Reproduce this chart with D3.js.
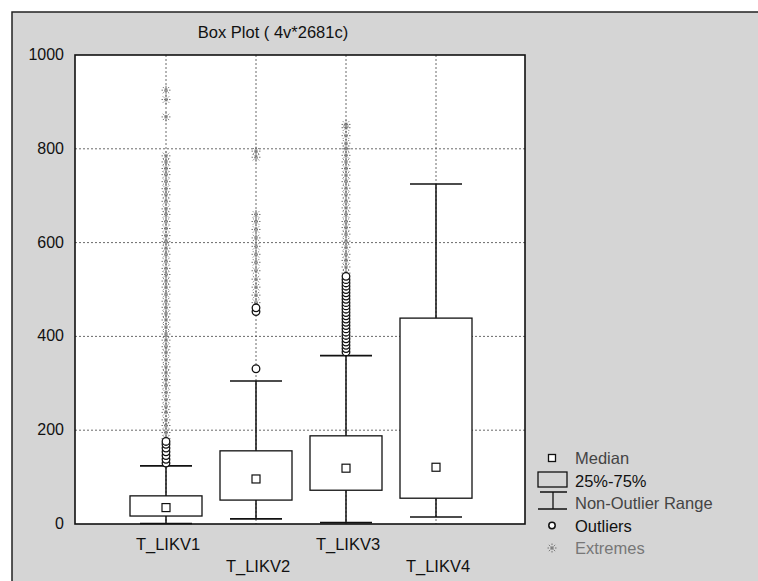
<!DOCTYPE html>
<html>
<head>
<meta charset="utf-8">
<script src="https://cdn.jsdelivr.net/npm/d3@7"></script>
<style>
  html, body { margin: 0; padding: 0; background: #fff; }
  svg { display: block; font-family: "Liberation Sans", Arial, sans-serif; }
</style>
</head>
<body>
<div id="chart"></div>
<script>
// values
const categories = ["T_LIKV1", "T_LIKV2", "T_LIKV3", "T_LIKV4"];
const medians = [35, 96, 119, 121];
const q1 = [17, 51, 72, 55];
const q3 = [60, 156, 188, 439];
const whiskLow = [1, 11, 3, 15];
const whiskHigh = [124, 305, 359, 725];

const outliers = [
	[130, 138, 146, 154, 162, 170, 176],
	[331, 453, 461],
	[367, 374, 381, 388, 395, 402, 409, 416, 423, 430, 437, 444, 451, 458, 465, 472, 479, 486, 493, 500, 507, 514, 521, 528],
	[]
];

const extremes = [
	[182, 195, 210, 222, 238, 250, 265, 280, 295, 308, 322, 335, 350, 365, 378, 392, 405, 420, 435, 448, 462, 475, 490, 505, 518, 532, 545, 560, 575, 588, 602, 615, 630, 645, 660, 672, 688, 702, 715, 730, 745, 758, 772, 785, 868, 905, 925],
	[472, 488, 505, 522, 540, 558, 575, 592, 610, 628, 645, 660, 782, 795],
	[535, 548, 562, 575, 590, 603, 618, 632, 645, 660, 674, 688, 702, 716, 730, 744, 758, 772, 786, 800, 812, 828, 845, 852],
	[]
];

const yTicks = [0, 200, 400, 600, 800, 1000];
const legendItems = ["Median", "25%-75%", "Non-Outlier Range", "Outliers", "Extremes"];

var width = 758,
	height = 581;
var plot = { left: 75, right: 525, top: 55, bottom: 524 };

var svg = d3
	.select("#chart")
	.append("svg")
	.attr("width", width)
	.attr("height", height);

// scanned grey page with frame
svg.append("rect")
	.attr("x", 12).attr("y", 12)
	.attr("width", width - 12).attr("height", height - 12)
	.attr("fill", "#d5d5d5");
svg.append("path")
	.attr("d", `M12,${height}V12H${width}`)
	.attr("fill", "none")
	.attr("stroke", "#222")
	.attr("stroke-width", 1.5);

var x = d3.scalePoint().domain(categories).range([plot.left + 1, plot.right + 1]).padding(1);
var y = d3.scaleLinear().domain([0, 1000]).range([plot.bottom, plot.top]);

svg.append("rect")
	.attr("x", plot.left).attr("y", plot.top)
	.attr("width", plot.right - plot.left).attr("height", plot.bottom - plot.top)
	.attr("fill", "#fff");

// grid
svg.append("g")
	.selectAll("line")
	.data(yTicks.filter((d) => d > 0 && d < 1000))
	.join("line")
	.attr("x1", plot.left).attr("x2", plot.right)
	.attr("y1", (d) => y(d)).attr("y2", (d) => y(d))
	.attr("stroke", "#444").attr("stroke-width", 0.8)
	.attr("stroke-dasharray", "2,2");
svg.append("g")
	.selectAll("line")
	.data(categories)
	.join("line")
	.attr("x1", (d) => x(d)).attr("x2", (d) => x(d))
	.attr("y1", plot.top).attr("y2", plot.bottom)
	.attr("stroke", "#444").attr("stroke-width", 0.8)
	.attr("stroke-dasharray", "2,2");

// y labels
svg.append("g")
	.selectAll("text")
	.data(yTicks)
	.join("text")
	.attr("x", 64)
	.attr("y", (d) => y(d) + 5)
	.attr("text-anchor", "end")
	.attr("font-size", 16)
	.attr("fill", "#111")
	.text((d) => d);

function star(g, cx, cy, s) {
	g.append("path")
		.attr("d", `M${cx - s},${cy}H${cx + s}M${cx},${cy - s}V${cy + s}M${cx - s * 0.7},${cy - s * 0.7}L${cx + s * 0.7},${cy + s * 0.7}M${cx - s * 0.7},${cy + s * 0.7}L${cx + s * 0.7},${cy - s * 0.7}`)
		.attr("fill", "none")
		.attr("stroke", "#666")
		.attr("stroke-width", 0.9)
		.attr("stroke-dasharray", "1.5,1");
}

var boxW = 72,
	capW = 52,
	medS = 8;

categories.forEach((c, i) => {
	var g = svg.append("g");
	var cx = x(c);

	extremes[i].forEach((v) => star(g, cx, y(v), 4.5));

	g.append("line")
		.attr("x1", cx).attr("x2", cx)
		.attr("y1", y(whiskLow[i])).attr("y2", y(whiskHigh[i]))
		.attr("stroke", "#111").attr("stroke-width", 1.5);
	[whiskLow[i], whiskHigh[i]].forEach((v) => {
		g.append("line")
			.attr("x1", cx - capW / 2).attr("x2", cx + capW / 2)
			.attr("y1", y(v)).attr("y2", y(v))
			.attr("stroke", "#111").attr("stroke-width", 1.6);
	});
	g.append("rect")
		.attr("x", cx - boxW / 2).attr("y", y(q3[i]))
		.attr("width", boxW).attr("height", y(q1[i]) - y(q3[i]))
		.attr("fill", "#fff").attr("stroke", "#111").attr("stroke-width", 1.3);
	g.append("rect")
		.attr("x", cx - medS / 2).attr("y", y(medians[i]) - medS / 2)
		.attr("width", medS).attr("height", medS)
		.attr("fill", "#fff").attr("stroke", "#111").attr("stroke-width", 1.2);

	outliers[i].forEach((v) => {
		g.append("circle")
			.attr("cx", cx).attr("cy", y(v)).attr("r", 3.8)
			.attr("fill", "#fff").attr("stroke", "#111").attr("stroke-width", 1.3);
	});

	// staggered category labels
	g.append("text")
		.attr("x", cx + 2)
		.attr("y", i % 2 ? 572 : 550)
		.attr("text-anchor", "middle")
		.attr("font-size", 16.5)
		.attr("fill", "#111")
		.text(c);
});

svg.append("rect")
	.attr("x", plot.left).attr("y", plot.top)
	.attr("width", plot.right - plot.left).attr("height", plot.bottom - plot.top)
	.attr("fill", "none").attr("stroke", "#111").attr("stroke-width", 1.6);

svg.append("text")
	.attr("x", 273).attr("y", 38)
	.attr("text-anchor", "middle")
	.attr("font-size", 16.5)
	.attr("fill", "#111")
	.text("Box Plot ( 4v*2681c)");

// legend
var lg = svg.append("g");
var lx = 552,
	ly0 = 458,
	step = 22.5;
lg.append("rect")
	.attr("x", lx - 3.5).attr("y", ly0 - 3.5).attr("width", 7).attr("height", 7)
	.attr("fill", "#fff").attr("stroke", "#111").attr("stroke-width", 1.3);
lg.append("rect")
	.attr("x", 538).attr("y", 472).attr("width", 29).attr("height", 15)
	.attr("fill", "none").attr("stroke", "#111").attr("stroke-width", 1.3);
lg.append("path")
	.attr("d", "M540,492H567M553,492V509M538,509H567")
	.attr("fill", "none").attr("stroke", "#111").attr("stroke-width", 1.3);
lg.append("circle")
	.attr("cx", lx).attr("cy", ly0 + step * 3).attr("r", 3.2)
	.attr("fill", "#fff").attr("stroke", "#111").attr("stroke-width", 1.5);
star(lg, lx, ly0 + step * 4, 4.5);

lg.selectAll("text")
	.data(legendItems)
	.join("text")
	.attr("x", 575)
	.attr("y", (d, i) => ly0 + 6 + i * step)
	.attr("font-size", 16.5)
	.attr("fill", (d, i) => (i == 4 ? "#777" : i == 1 || i == 3 ? "#111" : "#444"))
	.text((d) => d);
</script>
</body>
</html>
